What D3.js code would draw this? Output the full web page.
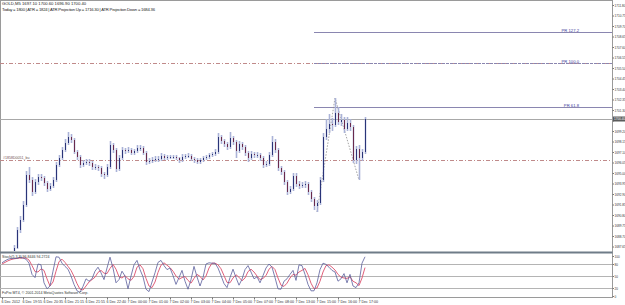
<!DOCTYPE html>
<html>
<head>
<meta charset="utf-8">
<script src="https://cdn.jsdelivr.net/npm/d3@7"></script>
<style>
  body { margin: 0; background: #fff; }
  text { font-family: "Liberation Sans", Arial, sans-serif; }
</style>
</head>
<body>
<script>
"use strict";
// GOLD M5 bars, prices (first 4 bars sit below the visible range)
const firstOpen = 1682.8
const closes = [1683.2, 1684.4, 1685.5, 1686.6,
  1687.5, 1689.3, 1690.3, 1691.8, 1694.8, 1694.3, 1693.1, 1694.1, 1694.6, 1694.5,
  1694.0, 1693.4, 1693.7, 1694.3, 1695.8, 1696.5, 1697.3, 1698.0, 1698.6, 1698.3,
  1697.1, 1696.6, 1695.8, 1696.0, 1696.1, 1696.0, 1695.6, 1695.6, 1695.5, 1694.9,
  1694.8, 1695.6, 1697.8, 1697.3, 1695.4, 1696.5, 1697.3, 1697.2, 1697.3, 1697.0,
  1697.2, 1697.5, 1697.5, 1697.0, 1696.1, 1696.2, 1696.3, 1696.4, 1696.4, 1696.7,
  1696.5, 1696.6, 1696.6, 1696.6, 1696.5, 1696.3, 1696.6, 1696.7, 1696.7, 1696.4,
  1696.3, 1696.1, 1696.3, 1696.5, 1696.6, 1696.8, 1696.9, 1697.1, 1698.6, 1698.2,
  1697.9, 1697.6, 1698.5, 1698.1, 1697.2, 1697.9, 1697.6, 1697.0, 1696.5, 1696.9,
  1696.8, 1696.8, 1696.5, 1695.8, 1695.9, 1696.8, 1698.1, 1697.3, 1695.5, 1695.1,
  1694.1, 1693.1, 1693.4, 1694.7, 1693.9, 1693.7, 1693.8, 1693.9, 1693.1, 1692.4,
  1691.7, 1692.0, 1694.3, 1698.6, 1699.4, 1699.9, 1699.8, 1701.0, 1700.1, 1700.3,
  1699.4, 1700.0, 1699.6, 1696.3, 1697.4, 1696.5, 1697.1, 1700.4]
const highs = [1683.5, 1684.7, 1685.8, 1686.9,
  1687.8, 1689.6, 1690.7, 1692.2, 1695.2, 1695.6, 1694.6, 1694.4, 1694.9, 1694.9,
  1694.7, 1694.2, 1694.0, 1694.6, 1696.1, 1696.8, 1697.6, 1698.4, 1699.1, 1698.9,
  1698.5, 1697.3, 1696.8, 1696.3, 1696.4, 1696.4, 1696.2, 1695.9, 1695.8, 1695.7,
  1695.1, 1695.9, 1698.2, 1698.0, 1697.5, 1696.8, 1697.6, 1697.5, 1697.6, 1697.5,
  1697.4, 1697.8, 1697.8, 1697.7, 1697.2, 1696.5, 1696.6, 1696.7, 1696.7, 1697.0,
  1696.9, 1696.8, 1696.8, 1696.8, 1696.8, 1696.6, 1696.9, 1696.9, 1697.0, 1696.9,
  1696.6, 1696.5, 1696.5, 1696.7, 1696.8, 1697.0, 1697.1, 1697.4, 1699.0, 1698.8,
  1698.4, 1698.1, 1699.1, 1698.7, 1698.3, 1698.2, 1698.1, 1697.8, 1697.2, 1697.2,
  1697.1, 1697.1, 1697.0, 1696.7, 1696.2, 1697.1, 1698.7, 1698.4, 1697.5, 1695.7,
  1695.3, 1694.3, 1693.7, 1695.0, 1695.0, 1694.2, 1694.1, 1694.2, 1694.1, 1693.3,
  1692.6, 1692.3, 1694.6, 1699.0, 1700.4, 1700.9, 1700.5, 1702.5, 1701.6, 1700.9,
  1700.6, 1700.6, 1700.4, 1699.8, 1697.7, 1697.8, 1697.4, 1700.6]
const lows = [1682.6, 1683.0, 1684.2, 1685.3,
  1686.4, 1687.4, 1689.0, 1690.1, 1691.6, 1694.0, 1692.7, 1692.9, 1693.8, 1694.2,
  1693.7, 1693.1, 1693.2, 1693.5, 1694.1, 1695.6, 1696.3, 1697.1, 1697.8, 1698.0,
  1696.9, 1696.3, 1695.5, 1695.6, 1695.8, 1695.7, 1695.3, 1695.3, 1695.2, 1694.6,
  1694.4, 1694.6, 1695.4, 1697.0, 1695.1, 1695.2, 1696.3, 1696.9, 1697.0, 1696.8,
  1696.8, 1697.0, 1697.2, 1696.8, 1695.8, 1695.9, 1696.0, 1696.1, 1696.1, 1696.2,
  1696.3, 1696.3, 1696.4, 1696.4, 1696.3, 1696.0, 1696.1, 1696.4, 1696.5, 1696.2,
  1696.0, 1695.9, 1695.9, 1696.1, 1696.3, 1696.4, 1696.6, 1696.7, 1696.9, 1697.9,
  1697.6, 1697.3, 1697.4, 1697.8, 1696.5, 1697.0, 1697.3, 1696.7, 1696.1, 1696.3,
  1696.5, 1696.5, 1696.2, 1695.5, 1695.6, 1695.7, 1696.6, 1697.0, 1695.2, 1694.8,
  1693.8, 1692.8, 1692.9, 1693.2, 1693.6, 1693.4, 1693.5, 1693.5, 1692.8, 1692.1,
  1691.3, 1691.1, 1691.8, 1694.1, 1698.3, 1699.0, 1699.2, 1699.6, 1699.8, 1699.7,
  1699.0, 1699.2, 1699.2, 1696.0, 1695.9, 1694.3, 1696.2, 1696.9]

const stochMain = [83, 88, 92, 94, 94, 94, 97, 95, 92, 82,
  54, 46, 80, 78, 33, 18, 25, 62, 98, 97,
  82, 74, 67, 50, 29, 13, 9, 24, 43, 37,
  43, 62, 72, 58, 41, 70, 97, 70, 33, 41,
  62, 50, 18, 50, 78, 89, 66, 48, 17, 11,
  35, 58, 84, 89, 76, 66, 70, 51, 29, 46,
  64, 37, 17, 41, 74, 48, 25, 46, 80, 83,
  82, 82, 70, 51, 31, 21, 46, 67, 46, 27,
  42, 66, 76, 60, 43, 48, 33, 51, 70, 80,
  72, 46, 18, 17, 37, 43, 54, 64, 39, 78,
  76, 54, 29, 13, 13, 33, 66, 82, 79, 72,
  64, 60, 37, 43, 56, 33, 54, 25, 21, 33,
  82, 98]
const stochSignal = [80, 84, 88, 91, 93, 94, 95, 95, 95, 90,
  76, 61, 60, 68, 64, 43, 25, 35, 62, 86,
  92, 84, 74, 64, 49, 31, 17, 15, 25, 35,
  41, 47, 59, 64, 57, 56, 69, 79, 67, 48,
  45, 51, 43, 39, 49, 72, 78, 68, 44, 25,
  21, 35, 59, 77, 83, 77, 71, 62, 50, 42,
  46, 49, 39, 32, 44, 54, 49, 40, 50, 70,
  82, 82, 78, 68, 51, 34, 33, 45, 53, 47,
  38, 45, 61, 67, 60, 50, 41, 44, 51, 67,
  74, 66, 45, 27, 24, 32, 45, 54, 52, 60,
  64, 69, 53, 32, 18, 20, 37, 60, 76, 78,
  72, 65, 54, 47, 45, 44, 48, 37, 33, 26,
  45, 71]
const stochLevels = [80, 50, 20]

// zigzag swing points (bar index)
const zigIdx = [105, 111, 119]
// price projection levels
const prNames = ["PR 61.8", "PR 100.0", "PR 127.2"]
const prPrices = [1701.6, 1706.0, 1709.1]
const lineLabel = "#1858D0051_bu"
const linePrice = 1696.3

const priceTicks = [1711.80, 1710.75, 1709.70, 1708.65, 1707.60, 1706.55, 1705.50, 1704.45,
  1703.40, 1702.35, 1701.30, 1700.25, 1699.20, 1698.15, 1697.10, 1696.05, 1695.00,
  1693.95, 1692.90, 1691.85, 1690.80, 1689.75, 1688.70, 1687.65]
const stochTicks = [100, 80, 50, 20, 0]
const timeIdx = [0, 7, 14, 21, 28, 35, 42, 49, 56, 63, 70, 77, 84, 91, 98, 105, 112, 119]
const timeLabels = ["6 Dec 2012", "6 Dec 19:55", "6 Dec 20:35", "6 Dec 21:15", "6 Dec 21:55",
  "6 Dec 22:40", "7 Dec 00:00", "7 Dec 01:00", "7 Dec 02:00", "7 Dec 03:00", "7 Dec 04:00",
  "7 Dec 05:00", "7 Dec 07:00", "7 Dec 08:00", "7 Dec 13:00", "7 Dec 15:00", "7 Dec 16:00",
  "7 Dec 17:00"]

const titleText = "GOLD,M5  1697.10 1700.60 1696.90 1700.40"
const infoText = "Today = 1800   |   ATR = 1824   |   ATR Projection Up = 1716.30   |   ATR Projection Down = 1684.36"

const W = 625, H = 305
const plotRight = 612
const axisFont = 3.1

const svg = d3.select("body").append("svg")
  .attr("width", W).attr("height", H)
  .style("display", "block")

svg.append("rect").attr("width", W).attr("height", H).attr("fill", "#fff")

const opens = [firstOpen].concat(closes.slice(0, -1))
const bars = closes.map((c, i) => ({ i: i, o: opens[i], h: highs[i], l: lows[i], c: c }))
const lastClose = closes[closes.length - 1]

const x = d3.scaleLinear().domain([0, closes.length - 1]).range([2, 365])
const y = d3.scaleLinear().domain([1687.3, 1712]).range([250, 3])
const yS = d3.scaleLinear().domain([0, 100]).range([296, 256])

// clip for main pane
svg.append("clipPath").attr("id", "mainClip")
  .append("rect").attr("x", 0).attr("y", 2).attr("width", plotRight).attr("height", 249)

// frame
svg.append("rect")
  .attr("x", 0.5).attr("y", 0.5).attr("width", plotRight).attr("height", 297)
  .attr("fill", "none").attr("stroke", "#9a9a9a")
svg.append("line")
  .attr("x1", 0).attr("x2", plotRight + 0.5).attr("y1", 252.5).attr("y2", 252.5)
  .attr("stroke", "#6f7c88").attr("stroke-width", 2)

const main = svg.append("g").attr("clip-path", "url(#mainClip)")

// horizontal lines
const snap = v => Math.round(v) + 0.5
main.append("line")
  .attr("x1", 0).attr("x2", plotRight).attr("y1", snap(y(linePrice))).attr("y2", snap(y(linePrice)))
  .attr("stroke", "#c08a8a").attr("stroke-dasharray", "4,2,1,2")
main.append("line")
  .attr("x1", 0).attr("x2", plotRight).attr("y1", snap(y(prPrices[1]))).attr("y2", snap(y(prPrices[1])))
  .attr("stroke", "#c08a8a").attr("stroke-dasharray", "4,2,1,2")
main.append("line")
  .attr("x1", 0).attr("x2", plotRight).attr("y1", snap(y(lastClose))).attr("y2", snap(y(lastClose)))
  .attr("stroke", "#a8a8a8")

const prStart = x(zigIdx[0]) - 3
prPrices.forEach((p, k) => {
  const yy = snap(y(p))
  main.append("line")
    .attr("x1", prStart).attr("x2", plotRight).attr("y1", yy).attr("y2", yy)
    .attr("stroke", "#8a86b0").attr("stroke-dasharray", k === 1 ? "3,1" : null)
  main.append("text")
    .attr("x", 579).attr("y", yy - 1)
    .attr("text-anchor", "end").attr("font-size", 4.2).attr("fill", "#3c3c9a")
    .text(prNames[k])
})

main.append("text")
  .attr("x", 3).attr("y", y(linePrice) - 1)
  .attr("font-size", 3.6).attr("fill", "#705050")
  .text(lineLabel)

// zigzag
main.append("path")
  .datum(zigIdx)
  .attr("fill", "none").attr("stroke", "#8c8c8c").attr("stroke-width", 0.8)
  .attr("stroke-dasharray", "1.5,1.5")
  .attr("d", d3.line()
    .x(d => x(d))
    .y((d, k) => y(k % 2 === 0 ? lows[d] : highs[d])))

// candles
const candle = main.selectAll(".bar").data(bars).enter().append("g")
candle.append("line")
  .attr("x1", d => Math.round(x(d.i)) + 0.5).attr("x2", d => Math.round(x(d.i)) + 0.5)
  .attr("y1", d => y(d.h)).attr("y2", d => y(d.l))
  .attr("stroke", "#aab3d8").attr("stroke-width", 1.6)
candle.append("rect")
  .attr("x", d => Math.round(x(d.i)))
  .attr("width", 1)
  .attr("y", d => y(Math.max(d.o, d.c)))
  .attr("height", d => Math.max(1, Math.abs(y(d.o) - y(d.c))))
  .attr("fill", d => d.c >= d.o ? "#2a3478" : "#6a2a4c")

// price axis (the current price tag covers the tick next to it)
const pAxis = svg.append("g")
  .attr("transform", `translate(${plotRight + 0.5},0)`)
  .call(d3.axisRight(y).tickValues(priceTicks).tickSize(1.5).tickPadding(0.5).tickFormat(d3.format(".2f")))
pAxis.select(".domain").remove()
pAxis.selectAll("line").attr("stroke", "#777")
pAxis.selectAll("text").attr("font-size", axisFont).attr("fill", "#333")
  .attr("font-family", "Liberation Sans, Arial, sans-serif")
pAxis.selectAll(".tick").filter(d => Math.abs(y(d) - y(lastClose)) < 4).select("text").remove()

// current price tag
const lastY = y(lastClose)
svg.append("rect").attr("x", plotRight + 1).attr("y", lastY - 2.5).attr("width", 12).attr("height", 5).attr("fill", "#5b5b5b")
svg.append("text").attr("x", plotRight + 2).attr("y", lastY + 1.1)
  .attr("font-size", axisFont).attr("fill", "#fff").text(d3.format(".2f")(lastClose))

// stochastic pane
stochLevels.forEach(v => {
  svg.append("line")
    .attr("x1", 0).attr("x2", plotRight).attr("y1", snap(yS(v))).attr("y2", snap(yS(v)))
    .attr("stroke", "#b4b4b4")
})
svg.append("path").datum(stochSignal)
  .attr("fill", "none").attr("stroke", "#e0607a").attr("stroke-width", 1)
  .attr("d", d3.line().x((d, i) => x(i)).y(d => yS(d)))
svg.append("path").datum(stochMain)
  .attr("fill", "none").attr("stroke", "#5a5e9c").attr("stroke-width", 0.8)
  .attr("d", d3.line().x((d, i) => x(i)).y(d => yS(d)))

const sAxis = svg.append("g")
  .attr("transform", `translate(${plotRight + 0.5},0)`)
  .call(d3.axisRight(yS).tickValues(stochTicks).tickSize(1.5).tickPadding(0.5))
sAxis.select(".domain").remove()
sAxis.selectAll("line").attr("stroke", "#777")
sAxis.selectAll("text").attr("font-size", axisFont).attr("fill", "#333")
  .attr("font-family", "Liberation Sans, Arial, sans-serif")

svg.append("text").attr("x", 2).attr("y", 258).attr("font-size", 3.6).attr("fill", "#333")
  .text("Stoch(5,3,3) 96.8446 94.2724")
svg.append("text").attr("x", 2).attr("y", 294).attr("font-size", 3.6).attr("fill", "#333")
  .text("FxPro MT4, © 2001-2014 MetaQuotes Software Corp.")

// time axis
const tAxis = svg.append("g")
  .attr("transform", "translate(0,297.5)")
  .call(d3.axisBottom(x).tickValues(timeIdx).tickSize(2).tickPadding(1)
    .tickFormat((d, k) => timeLabels[k]))
tAxis.select(".domain").remove()
tAxis.selectAll("line").attr("stroke", "#777")
tAxis.selectAll("text").attr("font-size", 3.6).attr("fill", "#333")
  .attr("text-anchor", "start").attr("dx", -1)
  .attr("font-family", "Liberation Sans, Arial, sans-serif")

// header
svg.append("text").attr("x", 2).attr("y", 5).attr("font-size", 4.2).attr("fill", "#222").text(titleText)
svg.append("text").attr("x", 2).attr("y", 10.5).attr("font-size", 4.2).attr("fill", "#222")
  .attr("textLength", 153).attr("lengthAdjust", "spacing").text(infoText)
</script>
</body>
</html>
